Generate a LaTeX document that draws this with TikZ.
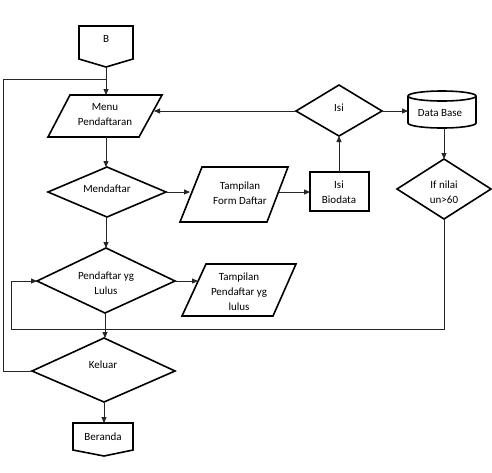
\documentclass[tikz,border=0pt]{standalone}
\usepackage{fontspec}
\setmainfont{Carlito}
\usetikzlibrary{arrows.meta}
\begin{document}
\begin{tikzpicture}[x=1pt,y=-1pt,
  shp/.style={draw=black, line width=1.6pt, line join=miter},
  lin/.style={draw=black!85, line width=0.9pt},
  con/.style={lin, -{Triangle[length=6pt,width=5pt]}},
  txt/.style={font=\fontsize{11}{15}\selectfont, align=center, inner sep=0pt}]
\useasboundingbox[fill=white] (0,0) rectangle (492,472);

% ---- shapes ----
% B off-page connector
\draw[shp] (79,26) -- (133,26) -- (133,59) -- (106,67) -- (79,59) -- cycle;
\node[txt] (tB) at (106,39) {B};
% Menu Pendaftaran
\draw[shp] (70,95) -- (162,95) -- (139,137) -- (48,137) -- cycle;
\node[txt] (tMenu) at (105,115) {Menu\\Pendaftaran};
% Mendaftar
\draw[shp] (48,192) -- (107,167) -- (166,192) -- (107,217) -- cycle;
\node[txt] (tMend) at (107,189) {Mendaftar};
% Tampilan Form Daftar
\draw[shp] (202,167) -- (288,167) -- (267,222) -- (180,222) -- cycle;
\node[txt] (tForm) at (240,193) {Tampilan\\Form Daftar};
% Isi Biodata
\draw[shp] (310,172) rectangle (369,211);
\node[txt] (tBio) at (339,192) {Isi\\Biodata};
% Isi diamond
\draw[shp] (296,111) -- (339,85) -- (382,111) -- (339,136) -- cycle;
\node[txt] (tIsi) at (339,108) {Isi};
% Data Base cylinder
\draw[shp] (442,96) ellipse[x radius=34, y radius=5];
\draw[shp] (408,96) -- (408,123) arc[start angle=180, end angle=0, x radius=34, y radius=5] -- (476,96);
\node[txt] (tDB) at (440,113) {Data Base};
% If nilai diamond
\draw[shp] (397,189) -- (444,159) -- (491,189) -- (444,219) -- cycle;
\node[txt] (tIf) at (444,192) {If nilai\\un>60};
% Pendaftar yg Lulus diamond
\draw[shp] (37,281) -- (106,248) -- (175,281) -- (105,313) -- cycle;
\node[txt] (tLul) at (106,283) {Pendaftar yg\\Lulus};
% Tampilan Pendaftar yg lulus
\draw[shp] (206,264) -- (296,264) -- (273,316) -- (182,316) -- cycle;
\node[txt] (tTam) at (239,292) {Tampilan\\Pendaftar yg\\lulus};
% Keluar diamond
\draw[shp] (32,371) -- (104,338) -- (175,371) -- (104,402) -- cycle;
\node[txt] (tKel) at (103,365) {Keluar};
% Beranda off-page connector
\draw[shp] (73,423) -- (133,423) -- (133,450) -- (104,456) -- (73,450) -- cycle;
\node[txt] (tBer) at (103,437) {Beranda};

% ---- anchor coordinates ----
\coordinate (Bbot) at (106,67);
\coordinate (MenuTop) at (106,95);
\coordinate (MenuRight) at (154,111);
\coordinate (MenuBot) at (106,137);
\coordinate (MendTop) at (106,167);
\coordinate (MendRight) at (166,192);
\coordinate (MendBot) at (106,217);
\coordinate (FormLeft) at (190,192);
\coordinate (FormRight) at (279,192);
\coordinate (BioLeft) at (310,192);
\coordinate (BioTop) at (339,172);
\coordinate (IsiBot) at (339,136);
\coordinate (IsiLeft) at (296,111);
\coordinate (IsiRight) at (382,111);
\coordinate (DBLeft) at (408,111);
\coordinate (DBBot) at (444,128);
\coordinate (IfTop) at (444,159);
\coordinate (IfBot) at (444,219);
\coordinate (LulTop) at (106,248);
\coordinate (LulLeft) at (37,281);
\coordinate (LulRight) at (175,281);
\coordinate (LulBot) at (105,313);
\coordinate (TamLeft) at (198,281);
\coordinate (KelTop) at (105,338);
\coordinate (KelLeft) at (32,371);
\coordinate (KelBot) at (104,402);
\coordinate (BerTop) at (104,423);
\coordinate (J1) at (106,79);
\coordinate (J2) at (444,329);

% ---- connectors ----
\draw[con] (Bbot) -- (MenuTop);
\draw[lin] (KelLeft) -- (3,371) -- (3,79) -- (J1);
\draw[con] (MenuBot) -- (MendTop);
\draw[con] (MendRight) -- (FormLeft);
\draw[con] (FormRight) -- (BioLeft);
\draw[con] (BioTop) -- (IsiBot);
\draw[con] (IsiLeft) -- (MenuRight);
\draw[con] (IsiRight) -- (DBLeft);
\draw[con] (DBBot) -- (IfTop);
\draw[con] (IfBot) -- (J2) -- (11,329) -- (11,281) -- (LulLeft);
\draw[con] (MendBot) -- (LulTop);
\draw[con] (LulRight) -- (TamLeft);
\draw[con] (LulBot) -- (KelTop);
\draw[con] (KelBot) -- (BerTop);
\end{tikzpicture}
\end{document}
